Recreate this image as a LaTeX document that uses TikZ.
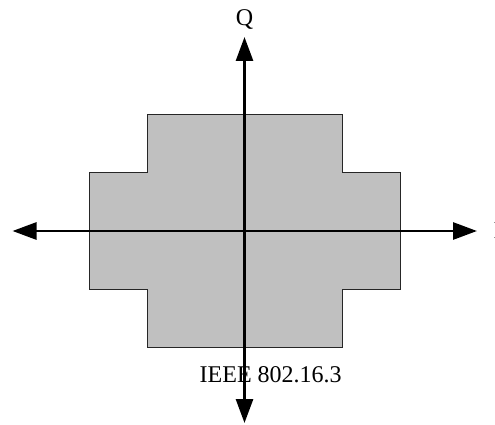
\documentclass[tikz,border=0pt]{standalone}
\usepackage{fontspec}
\setmainfont{Liberation Serif}
\usepackage{tikz}
\usetikzlibrary{arrows.meta}
\usepackage{xcolor}
\definecolor{regiongray}{RGB}{192,192,192}

\begin{document}
\begin{tikzpicture}[x=1pt,y=1pt,
    axis/.style={line width=2.8pt, -{Triangle[length=24pt,width=17pt]}},
    lbl/.style={inner sep=0pt, font=\fontsize{24}{28}\selectfont}]
    \useasboundingbox (0,0) rectangle (495,-425);

    % Cross-shaped region
    \filldraw[fill=regiongray, draw=black!85, line width=1pt]
        (147.5,-114.3) -- (342,-114.3) -- (342,-172.7) -- (400.5,-172.7)
        -- (400.5,-289.3) -- (342,-289.3) -- (342,-347.3) -- (147.5,-347.3)
        -- (147.5,-289.3) -- (89.5,-289.3) -- (89.5,-172.7) -- (147.5,-172.7)
        -- cycle;

    % Axes
    \coordinate (origin) at (244.5,-231);
    \coordinate (west) at (12.5,-231);
    \coordinate (east) at (477,-231);
    \coordinate (north) at (244.5,-37);
    \coordinate (south) at (244.5,-423);
    \draw[axis] (origin) -- (east);
    \draw[axis] (origin) -- (west);
    \draw[axis] (origin) -- (north);
    \draw[axis] (origin) -- (south);

    % Labels
    \node[lbl, anchor=base] (qlabel) at (244.5,-26) {Q};
    \node[lbl, anchor=base west] (ilabel) at (493.5,-238) {I};
    \node[lbl, anchor=base west] (stdlabel) at (199.5,-382) {IEEE 802.16.3};
\end{tikzpicture}
\end{document}
